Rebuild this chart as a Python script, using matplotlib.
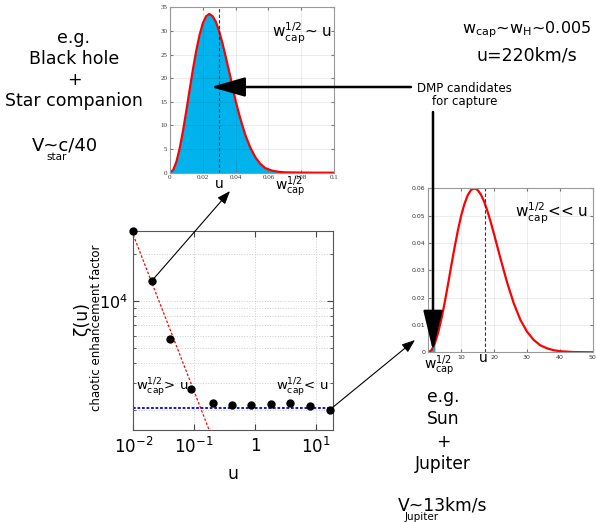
import numpy as np
import matplotlib.pyplot as plt
from matplotlib.patches import FancyArrowPatch
from matplotlib.ticker import FixedLocator, FixedFormatter, NullLocator

plt.rcParams['font.family'] = 'DejaVu Sans'
plt.rcParams['mathtext.default'] = 'regular'

# chaotic enhancement factor zeta(u)
u_pts = [0.01, 0.02, 0.04, 0.089, 0.2, 0.41, 0.87, 1.8, 3.8, 7.9, 16.7]
zeta_pts = [27800, 13350, 5720, 2720, 2240, 2160, 2170, 2200, 2210, 2120, 2010]
fit_u = [0.01, 0.2]          # zeta ~ 1/u branch
fit_zeta = [26300, 1315]
zeta_flat = 2075             # plateau for large u

# distribution for the black hole + star case
w_bh = [0, .002, .004, .006, .008, .010, .012, .014, .016, .018, .020, .022,
        .024, .026, .028, .030, .032, .034, .036, .038, .040, .043, .046,
        .049, .052, .055, .058, .062, .066, .070, .080, .090, .100]
f_bh = [0, 0.6, 2.4, 5.3, 9.0, 13.2, 17.6, 21.9, 25.8, 29.1, 31.6, 33.1,
        33.6, 33.1, 31.9, 29.9, 27.4, 24.5, 21.5, 18.4, 15.2, 11.3, 7.9,
        5.3, 3.3, 1.9, 1.0, 0.45, 0.2, 0.08, 0.02, 0, 0]
u_bh = 0.030

# distribution for the Sun + Jupiter case
w_sj = [0, 1, 2, 3, 4, 5, 6, 7, 8, 9, 10, 11, 12, 13, 14, 15, 16, 17, 18,
        19, 20, 22, 24, 26, 28, 30, 32, 34, 36, 38, 40, 44, 50]
f_sj = [0, .0008, .0033, .0072, .0123, .0183, .0249, .0318, .0384, .0446,
        .0500, .0543, .0575, .0594, .0600, .0594, .0577, .0551, .0516,
        .0476, .0432, .0341, .0254, .0179, .0119, .0076, .0046, .0026,
        .0015, .0008, .0004, .0001, 0]
u_sj = 17.1
wcap_sj = 2.0

W, H = 596, 522
fig = plt.figure(figsize=(W / 100, H / 100), dpi=100)


def fx(x, y):
    return x / W, 1 - y / H


def box(x0, y0, x1, y1):
    return [x0 / W, 1 - y1 / H, (x1 - x0) / W, (y1 - y0) / H]


# ---- main panel ----
ax = fig.add_axes(box(133.3, 230.7, 333.3, 430))
ax.set_xscale('log')
ax.set_yscale('log')
ax.set_xlim(0.01, 19.2)
ax.set_ylim(1496, 28000)
ax.plot(fit_u, fit_zeta, color='red', ls=(0, (2, 1.5)), lw=0.9, zorder=2)
ax.axhline(zeta_flat, color='#0000dd', ls=(0, (1.5, 1)), lw=1.3, zorder=2)
ax.plot(u_pts, zeta_pts, 'o', color='black', ms=5, zorder=4, clip_on=False)

ax.xaxis.set_major_locator(FixedLocator([0.01, 0.1, 1, 10]))
ax.xaxis.set_major_formatter(FixedFormatter(['$10^{-2}$', '$10^{-1}$', '1', '$10^{1}$']))
ax.xaxis.set_minor_locator(NullLocator())
ax.yaxis.set_major_locator(FixedLocator([1e4]))
ax.yaxis.set_major_formatter(FixedFormatter(['$10^{4}$']))
ax.yaxis.set_minor_locator(FixedLocator([2000, 3000, 4000, 5000, 6000, 7000, 8000, 9000, 20000]))
ax.yaxis.set_minor_formatter(FixedFormatter([''] * 9))
ax.tick_params(which='both', direction='in', top=True, right=True, colors='#444444')
ax.tick_params(which='major', length=4, labelsize=12, pad=5, labelcolor='black')
ax.tick_params(which='minor', length=2.5)
ax.tick_params(axis='y', labelsize=11.5, pad=4)
ax.grid(True, which='both', color='#cccccc', ls=':', lw=0.7)
for s in ax.spines.values():
    s.set_color('#555555')
ax.set_xlabel('u', fontsize=12.5, labelpad=6)

ax.text(0.013, 0.20, '$w_{cap}^{1/2}$> u', transform=ax.transAxes,
        fontsize=9.5, va='baseline', ha='left')
ax.text(0.975, 0.20, '$w_{cap}^{1/2}$< u', transform=ax.transAxes,
        fontsize=9.5, va='baseline', ha='right')

fig.text(*fx(82, 319), '\u03b6(u)', rotation=90, fontsize=12.5, ha='center', va='center')
fig.text(*fx(96, 328), 'chaotic enhancement factor', rotation=90, fontsize=8.5,
         ha='center', va='center')

# ---- inset: black hole + star ----
a1 = fig.add_axes(box(170, 7.3, 334, 172.7))
a1.fill_between(w_bh, f_bh, color='#00b3ec', lw=0)
a1.plot(w_bh, f_bh, color='red', lw=1.6)
a1.axvline(u_bh, color='#333333', ls=(0, (3, 2)), lw=0.8)
a1.set_xlim(0, 0.1)
a1.set_ylim(0, 35)
a1.set_xticks([0, 0.02, 0.04, 0.06, 0.08, 0.1])
a1.set_xticklabels(['0', '0.02', '0.04', '0.06', '0.08', '0.1'])
a1.set_yticks(range(0, 36, 5))
a1.grid(True, color='black', alpha=0.09, lw=0.6)
a1.tick_params(direction='in', top=True, right=True, length=2, labelsize=5,
               pad=2, colors='#777777', labelcolor='#333333')
for lab in a1.get_xticklabels() + a1.get_yticklabels():
    lab.set_family('Liberation Serif')
for s in a1.spines.values():
    s.set_color('#999999')
a1.text(0.62, 0.82, '$w_{cap}^{1/2}$~ u', transform=a1.transAxes, fontsize=11,
        va='baseline')

# ---- inset: Sun + Jupiter ----
a2 = fig.add_axes(box(428.3, 188.3, 592.7, 352.3))
w2 = np.array(w_sj)
f2 = np.array(f_sj)
a2.fill_between(w2, f2, where=w2 <= wcap_sj, color='#00b3ec', lw=0)
a2.plot(w2, f2, color='red', lw=1.6)
a2.axvline(u_sj, color='#333333', ls=(0, (3, 2)), lw=0.8)
a2.set_xlim(0, 50)
a2.set_ylim(0, 0.06)
a2.set_xticks([0, 10, 20, 30, 40, 50])
a2.set_xticklabels(['', '10', '20', '30', '40', '50'])
a2.set_yticks([0, 0.01, 0.02, 0.03, 0.04, 0.05, 0.06])
a2.set_yticklabels(['0', '0.01', '0.02', '0.03', '0.04', '0.05', '0.06'])
a2.grid(True, color='black', alpha=0.09, lw=0.6)
a2.tick_params(direction='in', top=True, right=True, length=2, labelsize=4.5,
               pad=2, colors='#777777', labelcolor='#333333')
for s in a2.spines.values():
    s.set_color('#999999')
a2.text(0.53, 0.82, '$w_{cap}^{1/2}$<< u', transform=a2.transAxes, fontsize=11,
        va='baseline')

# labels under the insets
fig.text(*fx(219, 188), 'u', fontsize=10, ha='center', va='baseline')
fig.text(*fx(275, 175), '$w_{cap}^{1/2}$', fontsize=10, ha='left', va='top')
fig.text(*fx(483, 362), 'u', fontsize=10, ha='center', va='baseline')
fig.text(*fx(424, 354), '$w_{cap}^{1/2}$', fontsize=10, ha='left', va='top')

# ---- arrows ----
fig.add_artist(FancyArrowPatch(fx(411, 87), fx(211, 87), transform=fig.transFigure,
                               arrowstyle='-|>,head_length=2.1,head_width=0.6',
                               mutation_scale=10, lw=1.8, color='black',
                               shrinkA=0, shrinkB=0, zorder=10))
fig.add_artist(FancyArrowPatch(fx(433, 112), fx(433, 351), transform=fig.transFigure,
                               arrowstyle='-|>,head_length=2.5,head_width=0.6',
                               mutation_scale=10, lw=1.8, color='black',
                               shrinkA=0, shrinkB=0, zorder=10))
thin = dict(arrowstyle='-|>,head_length=0.8,head_width=0.3', mutation_scale=10,
            color='black', lw=0.8, shrinkA=0, shrinkB=0)
ax.annotate('', xy=fx(230, 191), xycoords='figure fraction',
            xytext=(u_pts[1], zeta_pts[1]), textcoords='data', arrowprops=thin)
ax.annotate('', xy=fx(415, 340), xycoords='figure fraction',
            xytext=(u_pts[-1], zeta_pts[-1]), textcoords='data', arrowprops=thin)


# ---- free text ----
def stack(x, y0, lines, step, size):
    for i, s in enumerate(lines):
        fig.text(*fx(x, y0 + i * step), s, ha='center', va='baseline', fontsize=size)


stack(74, 43, ['e.g.', 'Black hole', '+', 'Star companion'], 21, 12.5)
fig.text(*fx(32, 150), 'V~c/40', fontsize=13, va='baseline')
fig.text(*fx(46, 160), 'star', fontsize=7.5, va='baseline')

stack(443, 402, ['e.g.', 'Sun', '+', 'Jupiter'], 22.3, 12.3)
fig.text(*fx(398, 511), 'V~13km/s', fontsize=12.3, va='baseline')
fig.text(*fx(405, 520), 'Jupiter', fontsize=7.5, va='baseline')

fig.text(*fx(527, 33), '$w_{cap}$~$w_{H}$~0.005', fontsize=11.5, ha='center', va='baseline')
fig.text(*fx(527, 60), 'u=220km/s', fontsize=12.5, ha='center', va='baseline')

fig.text(*fx(464.5, 91.5), 'DMP candidates', fontsize=8.5, ha='center', va='baseline')
fig.text(*fx(464.5, 105.5), 'for capture', fontsize=8.5, ha='center', va='baseline')

fig.savefig('out.png', dpi=100)
